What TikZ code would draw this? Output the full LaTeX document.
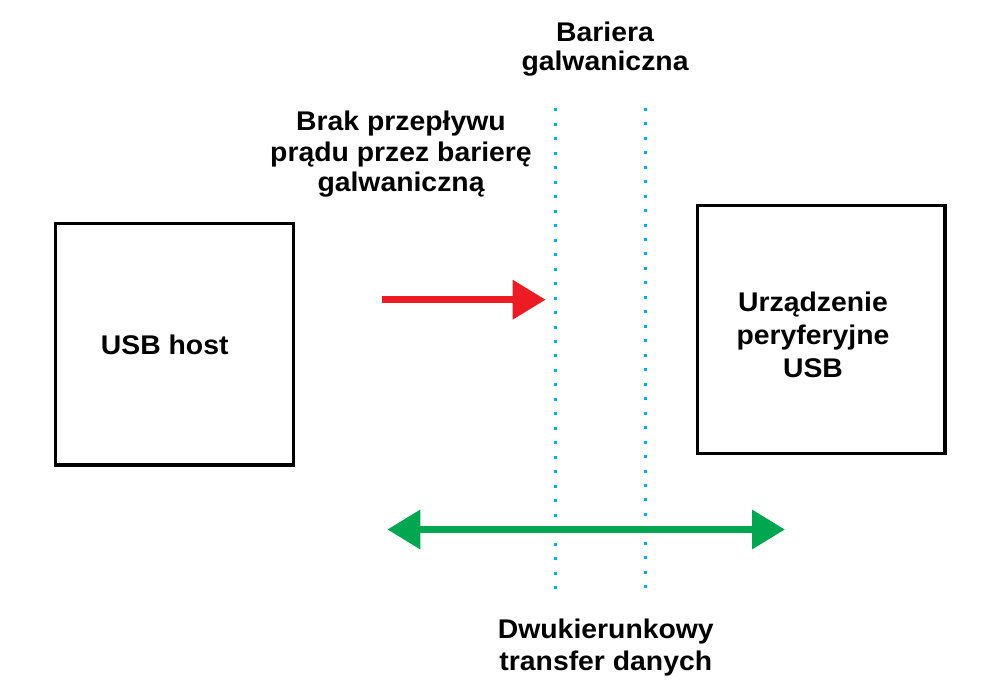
\documentclass[tikz,border=0pt]{standalone}
\usepackage{fontspec}
\setmainfont{Liberation Sans}[FakeStretch=1.05]
\usetikzlibrary{arrows.meta}
\definecolor{barcyan}{RGB}{0,174,239}
\definecolor{arrred}{RGB}{237,28,36}
\definecolor{arrgreen}{RGB}{0,166,80}
\tikzset{
  boxnode/.style={draw=black, line width=3.3pt, inner sep=0pt},
  lbl/.style={font=\bfseries\fontsize{27}{31}\selectfont, align=center, anchor=base, inner sep=0pt},
  barrier/.style={draw=barcyan, line width=3pt, dash pattern=on 3pt off 11.47pt},
  bigarrow/.style={line width=7.5pt, line cap=butt, -{Triangle[length=33pt,width=37.7pt]}},
}
\begin{document}
\begin{tikzpicture}[x=1pt,y=-1pt]
\useasboundingbox[fill=white] (0,0) rectangle (1000,700);
% boxes
\node[boxnode, minimum width=237.6pt, minimum height=241.7pt] (host) at (174.5,344.2) {};
\node[boxnode, minimum width=247.7pt, minimum height=247.6pt] (dev) at (821.2,329.5) {};
% labels (anchor = baseline of last line)
\node[lbl] (hostlbl) at (164.7,354.5) {USB host};
\node[lbl, font=\bfseries\fontsize{27}{32.8}\selectfont] (devlbl) at (813,377.3) {Urządzenie\\peryferyjne\\USB};
\node[lbl, font=\bfseries\fontsize{27}{29}\selectfont] (barlbl) at (605,71) {Bariera\\galwaniczna};
\node[lbl, font=\bfseries\fontsize{27}{30.5}\selectfont] (braklbl) at (401,191.7) {Brak przepływu\\prądu przez barierę\\galwaniczną};
\node[lbl, font=\bfseries\fontsize{27}{32.4}\selectfont] (dwulbl) at (605.8,670.7) {Dwukierunkowy\\transfer danych};
% barrier lines
\coordinate (b1top) at (555,108.5);
\coordinate (b1bot) at (555,590);
\coordinate (b2top) at (645,107.8);
\coordinate (b2bot) at (645,589);
\draw[barrier] (b1top) -- (b1bot);
\draw[barrier] (b2top) -- (b2bot);
% red arrow
\coordinate (rs) at (381.7,299.7);
\coordinate (re) at (545.7,299.7);
\draw[bigarrow, draw=arrred, fill=arrred] (rs) -- (re);
% green arrow
\coordinate (gs) at (387.3,529.5);
\coordinate (ge) at (785,529.5);
\draw[bigarrow, {Triangle[length=33pt,width=37.7pt]}-{Triangle[length=33pt,width=37.7pt]}, draw=arrgreen, fill=arrgreen] (gs) -- (ge);
\end{tikzpicture}
\end{document}
